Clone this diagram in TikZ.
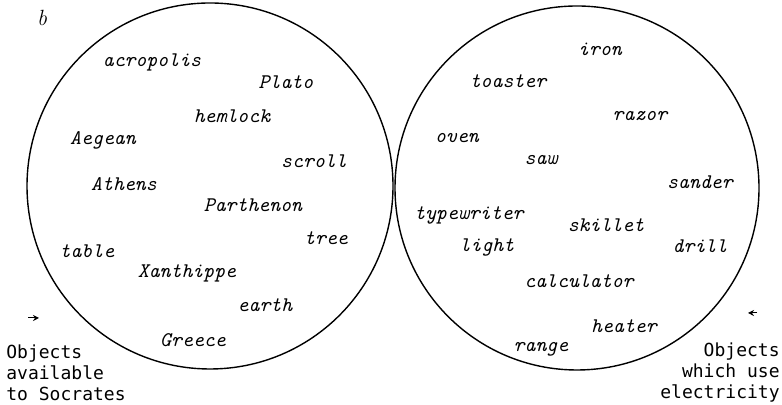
\documentclass[tikz,border=0pt]{standalone}
\usepackage{fontspec}
\newfontfamily\capfont{DejaVu Sans Mono}
\usetikzlibrary{arrows.meta}
\tikzset{
  word/.style={font=\fontsize{10.4}{12}\selectfont\ttfamily\itshape, inner sep=0pt},
  caption/.style={font=\fontsize{9}{10.5}\selectfont\capfont, inner sep=0pt},
  pointer/.style={-{Stealth[length=3pt,width=3pt]}, line width=0.5pt}
}
\begin{document}
\begin{tikzpicture}[x=0.5pt,y=0.5pt]
\useasboundingbox (0,0) rectangle (782,405);
\node[font=\fontsize{11}{12}\selectfont\itshape, inner sep=0pt] (b) at (42,387) {b};
% the two sets
\draw[line width=0.7pt] (210,219) circle (183);
\draw[line width=0.7pt] (577,217) circle (182);
% objects available to Socrates
\node[word] (acropolis) at (152,343) {acropolis};
\node[word] (plato) at (286,323) {Plato};
\node[word] (hemlock) at (232,289) {hemlock};
\node[word] (aegean) at (103,265) {Aegean};
\node[word] (scroll) at (314,244) {scroll};
\node[word] (athens) at (124,221) {Athens};
\node[word] (parthenon) at (253,200) {Parthenon};
\node[word] (tree) at (326,167) {tree};
\node[word] (table) at (87,154) {table};
\node[word] (xanthippe) at (187,132) {Xanthippe};
\node[word] (earth) at (265,100) {earth};
\node[word] (greece) at (193,65) {Greece};
% objects which use electricity
\node[word] (iron) at (600,356) {iron};
\node[word] (toaster) at (508,324) {toaster};
\node[word] (razor) at (640,289) {razor};
\node[word] (oven) at (457,267) {oven};
\node[word] (saw) at (541,245) {saw};
\node[word] (sander) at (700,223) {sander};
\node[word] (typewriter) at (469,190) {typewriter};
\node[word] (skillet) at (606,180) {skillet};
\node[word] (light) at (487,158) {light};
\node[word] (drill) at (700,159) {drill};
\node[word] (calculator) at (579,124) {calculator};
\node[word] (heater) at (624,79) {heater};
\node[word] (range) at (541,56) {range};
% captions
\node[caption, anchor=west, align=left] (socrates) at (6,32) {Objects\\available\\to Socrates};
\node[caption, anchor=east, align=right] (electricity) at (780,32) {Objects\\which use\\electricity};
\coordinate (lefttail) at (28,87);
\coordinate (lefttip) at (39,87);
\coordinate (righttail) at (757,92);
\coordinate (righttip) at (748,92);
\draw[pointer] (lefttail) -- (lefttip);
\draw[pointer] (righttail) -- (righttip);
\end{tikzpicture}
\end{document}
